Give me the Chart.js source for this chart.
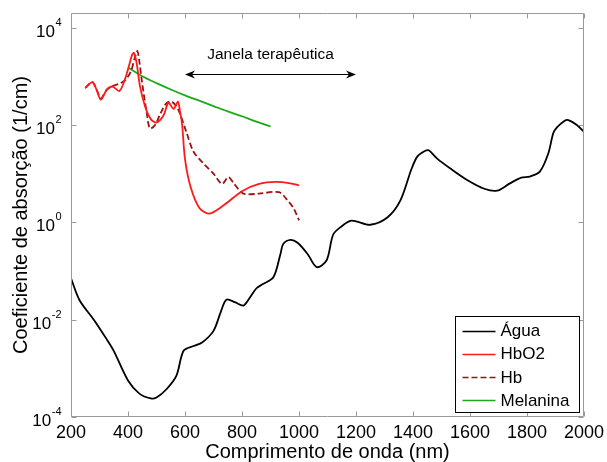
<!DOCTYPE html>
<html><head><meta charset="utf-8">
<script src="https://cdn.jsdelivr.net/npm/chart.js@4/dist/chart.umd.min.js"></script>
<style>html,body{margin:0;padding:0;background:#fff;}</style>
</head><body>
<canvas id="c" width="607" height="462"></canvas>
<script>
// ---- data (wavelength in nm, absorption coefficient in 1/cm) ----
const waterWl  = [200,230,280,325,350,400,440,480,500,535,570,595,630,660,700,725,745,775,805,825,850,870,910,935,945,970,995,1030,1062,1097,1120,1150,1180,1200,1250,1310,1355,1395,1415,1440,1455,1485,1530,1590,1650,1695,1740,1780,1810,1845,1875,1892,1905,1930,1945,1975,2000];
const waterVal = [0.0708,0.0251,0.0100,0.00398,0.00229,0.000562,0.000302,0.000240,0.000251,0.000372,0.000708,0.00229,0.00288,0.00339,0.00589,0.0141,0.0257,0.0229,0.0195,0.0269,0.0437,0.0525,0.0741,0.224,0.363,0.437,0.380,0.224,0.120,0.166,0.562,0.832,1.07,1.05,0.891,1.26,2.75,12.6,22.4,28.8,30.2,20.4,12.9,7.41,4.90,4.47,6.31,8.32,8.71,11.0,26.3,67.6,89.1,120,126,100,72.4];

const hbo2Wl  = [250,275,290,305,325,345,370,390,405,415,421,430,442,460,480,500,525,542,560,575,582,590,600,620,650,685,740,800,860,920,970,1000];
const hbo2Val = [575,759,525,331,525,617,501,891,1778,2818,3020,1905,631,240,132,112,158,288,214,302,200,100,20,5.25,2.0,1.51,2.34,4.37,6.17,6.76,6.31,5.75];

const hbWl  = [250,275,290,305,325,345,370,390,410,425,433,440,448,466,477,495,515,535,553,570,582,605,630,665,700,730,752,770,805,860,930,960,980,1000];
const hbVal = [575,759,525,355,525,631,708,832,1259,2512,3311,1995,851,174,85,100,178,282,302,240,174,70.8,28.2,16.2,10,6.17,8.51,6.46,3.89,3.89,4.17,2.82,2.0,1.10];

const melWl  = [400,450,500,550,600,650,700,750,800,850,900];
const melVal = [1514,1000,724,537,407,316,245,190,151,117,93.3];

const seriesLabels = ['Água','HbO2','Hb','Melanina'];
const xTickStep = 200;
const yTickValues = [1e-4,1e-2,1,1e2,1e4];
const yTickExponents = ['-4','-2','0','2','4'];
const annotText = 'Janela terapêutica';
const windowRange = [600,1200];
const arrowLevel = 1130;
const annotCenter = 900;

const FONT = "'Liberation Sans', Arial, sans-serif";
const pts = (xs, ys) => xs.map((x,i)=>({x:x, y:ys[i]}));

const framePlugin = {
  id:'frame',
  afterDraw(chart){
    const {ctx, chartArea:a, scales:{x, y}} = chart;
    const L=Math.round(a.left)+0.5, R=Math.round(a.right)-0.5, T=Math.round(a.top)+0.5, B=Math.round(a.bottom)-0.5;
    ctx.save();
    ctx.strokeStyle='#9a9a9a'; ctx.lineWidth=1;
    ctx.beginPath(); ctx.rect(L,T,R-L,B-T); ctx.stroke();
    ctx.beginPath();
    x.ticks.forEach(t=>{ const p=Math.round(x.getPixelForValue(t.value))+0.5; ctx.moveTo(p,B); ctx.lineTo(p,B-5); ctx.moveTo(p,T); ctx.lineTo(p,T+5); });
    y.ticks.forEach(t=>{ const p=Math.round(y.getPixelForValue(t.value))+0.5; ctx.moveTo(L,p); ctx.lineTo(L+5,p); ctx.moveTo(R,p); ctx.lineTo(R-5,p); });
    ctx.stroke();
    ctx.fillStyle='#000';
    y.ticks.forEach(t=>{
      const p=y.getPixelForValue(t.value);
      const ex=yTickExponents[yTickValues.indexOf(t.value)];
      ctx.font='17px '+FONT; const wb=ctx.measureText('10').width;
      ctx.font='11px '+FONT; const we=ctx.measureText(ex).width;
      const right=a.left-10;
      const x0=right-we-wb;
      ctx.textBaseline='alphabetic'; ctx.textAlign='left';
      ctx.font='17px '+FONT; ctx.fillText('10', x0, p+9);
      ctx.font='11px '+FONT; ctx.fillText(ex, x0+wb+0.5, p-2);
    });
    const ax1=x.getPixelForValue(windowRange[0]), ax2=x.getPixelForValue(windowRange[1]);
    const ay=Math.round(y.getPixelForValue(arrowLevel))+0.5;
    ctx.strokeStyle='#000'; ctx.lineWidth=1;
    ctx.beginPath(); ctx.moveTo(ax1+2,ay); ctx.lineTo(ax2-2,ay); ctx.stroke();
    ctx.fillStyle='#000';
    const head=(xt,dir)=>{ ctx.beginPath(); ctx.moveTo(xt,ay); ctx.lineTo(xt+dir*10,ay-4); ctx.lineTo(xt+dir*7,ay); ctx.lineTo(xt+dir*10,ay+4); ctx.closePath(); ctx.fill(); };
    head(ax1,1); head(ax2,-1);
    ctx.font='15.5px '+FONT; ctx.textAlign='center'; ctx.textBaseline='alphabetic';
    ctx.fillText(annotText, x.getPixelForValue(annotCenter), ay-16);
    const bw=124, bh=96;
    const bx=Math.round(a.right)-5-bw+0.5, by=Math.round(a.bottom)-5-bh+0.5;
    ctx.fillStyle='#fff'; ctx.fillRect(bx,by,bw,bh);
    ctx.strokeStyle='#000'; ctx.lineWidth=1; ctx.strokeRect(bx,by,bw,bh);
    chart.data.datasets.forEach((ds,i)=>{
      const cy=by+14+i*23.3;
      ctx.strokeStyle=ds.borderColor; ctx.lineWidth=1.6;
      ctx.setLineDash(ds.borderDash||[]);
      ctx.beginPath(); ctx.moveTo(bx+7,Math.round(cy)+0.5); ctx.lineTo(bx+40,Math.round(cy)+0.5); ctx.stroke();
      ctx.setLineDash([]);
      ctx.fillStyle='#000'; ctx.font='17px '+FONT; ctx.textAlign='left'; ctx.textBaseline='middle';
      ctx.fillText(ds.label, bx+45, cy+1);
    });
    ctx.restore();
  }
};

const common = {pointRadius:0, fill:false, borderWidth:1.8, tension:0.3};
new Chart(document.getElementById('c').getContext('2d'), {
  type:'line',
  data:{datasets:[
    Object.assign({label:seriesLabels[0], data:pts(waterWl,waterVal), borderColor:'#000000'}, common),
    Object.assign({label:seriesLabels[1], data:pts(hbo2Wl,hbo2Val), borderColor:'#ff1a1a'}, common),
    Object.assign({label:seriesLabels[2], data:pts(hbWl,hbVal), borderColor:'#a01010', borderDash:[6,3]}, common),
    Object.assign({label:seriesLabels[3], data:pts(melWl,melVal), borderColor:'#1aaa1a'}, common)
  ]},
  options:{
    responsive:false, animation:false, devicePixelRatio:1,
    layout:{padding:{top:13,right:23,left:0,bottom:0}},
    plugins:{legend:{display:false}, tooltip:{enabled:false}},
    scales:{
      x:{type:'linear', min:200, max:2000,
         ticks:{stepSize:xTickStep, color:'#000', font:{family:FONT,size:18}, padding:-3, maxRotation:0, autoSkip:false, callback:v=>String(v)},
         grid:{display:false}, border:{display:false},
         title:{display:true, text:'Comprimento de onda (nm)', color:'#000', font:{family:FONT,size:20,lineHeight:1}, padding:0},
         afterFit(s){ s.height=45; }},
      y:{type:'logarithmic', min:1e-4, max:2e4,
         afterBuildTicks(s){ s.ticks=yTickValues.map(v=>({value:v})); },
         ticks:{display:false}, grid:{display:false}, border:{display:false},
         title:{display:true, text:'Coeficiente de absorção (1/cm)', color:'#000', font:{family:FONT,size:20,lineHeight:1}, padding:{top:11,bottom:0}},
         afterFit(s){ s.width=71; }}
    }
  },
  plugins:[framePlugin]
});
</script>
</body></html>
